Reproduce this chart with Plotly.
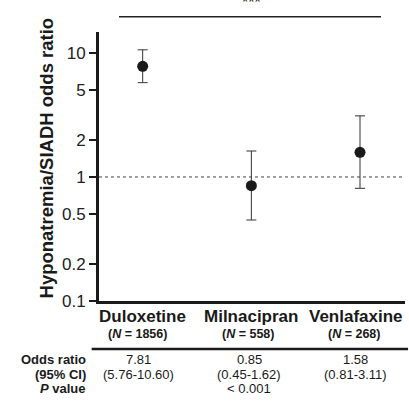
import plotly.graph_objects as go

# Odds ratios with 95% confidence intervals per drug
drugs = ["Duloxetine", "Milnacipran", "Venlafaxine"]
n_patients = [1856, 558, 268]
odds_ratio = [7.81, 0.85, 1.58]
ci_low = [5.76, 0.45, 0.81]
ci_high = [10.60, 1.62, 3.11]
p_value_text = ["", "< 0.001", ""]
significance = "***"

y_tick_vals = [0.1, 0.2, 0.5, 1, 2, 5, 10]
y_tick_text = ["0.1", "0.2", "0.5", "1", "2", "5", "10"]

FONT = "Liberation Sans, Arial, Helvetica, sans-serif"
INK = "#1a1a1a"

x_pos = list(range(len(drugs)))

fig = go.Figure()
fig.add_trace(go.Scatter(
    x=x_pos,
    y=odds_ratio,
    mode="markers",
    marker=dict(size=11, color=INK, line=dict(width=0)),
    error_y=dict(
        type="data",
        symmetric=False,
        array=[h - v for h, v in zip(ci_high, odds_ratio)],
        arrayminus=[v - l for v, l in zip(odds_ratio, ci_low)],
        color="#333333",
        thickness=1,
        width=5,
    ),
    showlegend=False,
    cliponaxis=False,
))

# reference line at OR = 1
fig.add_shape(type="line", xref="paper", x0=0, x1=1, yref="y", y0=1, y1=1,
              line=dict(color="#444444", width=1, dash="dot"))

# significance bracket across all groups
fig.add_shape(type="line", xref="x", x0=-0.218, x1=2.193, yref="paper",
              y0=1.0569, y1=1.0569, line=dict(color="#222222", width=1.6))
fig.add_annotation(text=significance, xref="x", x=1, yref="paper", y=1.0705,
                   xanchor="center", yanchor="bottom", showarrow=False,
                   font=dict(family=FONT, size=16, color=INK))

# y-axis title
fig.add_annotation(text="<b>Hyponatremia/SIADH odds ratio</b>", textangle=-90,
                   xref="paper", x=-0.170, yref="paper", y=0.5335,
                   xanchor="center", yanchor="middle", showarrow=False,
                   font=dict(family=FONT, size=18.5, color=INK))

# group labels and table below the axis
col_shift = [-4, -2, -5]
for i, (name, n) in enumerate(zip(drugs, n_patients)):
    fig.add_annotation(text=f"<b>{name}</b>", xref="x", x=i, yref="paper", y=-0.0558,
                       xanchor="center", yanchor="middle", showarrow=False,
                       xshift=[0, 0, -4][i],
                       font=dict(family=FONT, size=17, color=INK))
    fig.add_annotation(text=f"<b>(<i>N</i> = {n})</b>", xref="x", x=i, yref="paper",
                       y=-0.1245, xanchor="center", yanchor="middle", showarrow=False,
                       xshift=col_shift[i] - 1,
                       font=dict(family=FONT, size=12.5, color=INK))
    fig.add_annotation(text=f"{odds_ratio[i]:.2f}", xref="x", x=i, yref="paper",
                       y=-0.2193, xanchor="center", yanchor="middle", showarrow=False,
                       xshift=col_shift[i],
                       font=dict(family=FONT, size=13, color=INK))
    fig.add_annotation(text=f"({ci_low[i]:.2f}-{ci_high[i]:.2f})", xref="x", x=i,
                       yref="paper", y=-0.2714, xanchor="center", yanchor="middle",
                       showarrow=False, xshift=col_shift[i],
                       font=dict(family=FONT, size=13, color=INK))
    if p_value_text[i]:
        fig.add_annotation(text=p_value_text[i].replace("<", "&lt;"), xref="x", x=i,
                           yref="paper", y=-0.3271, xanchor="center",
                           yanchor="middle", showarrow=False, xshift=col_shift[i],
                           font=dict(family=FONT, size=13, color=INK))

# table rule under the group labels
fig.add_shape(type="line", xref="paper", x0=-0.024, x1=1.01, yref="paper",
              y0=-0.1784, y1=-0.1784, line=dict(color=INK, width=2.5))

row_labels = ["<b>Odds ratio</b>", "<b>(95% CI)</b>", "<b><i>P</i> value</b>"]
row_y = [-0.2193, -0.2714, -0.3271]
for lab, yy in zip(row_labels, row_y):
    fig.add_annotation(text=lab, xref="paper", x=-0.0369, yref="paper", y=yy,
                       xanchor="right", yanchor="middle", showarrow=False,
                       font=dict(family=FONT, size=13, color=INK))

fig.update_xaxes(
    range=[-0.402, 2.414],
    showline=True, linecolor=INK, linewidth=3,
    showticklabels=False, ticks="", showgrid=False, zeroline=False,
)
fig.update_yaxes(
    type="log",
    range=[-1, 1.169],
    tickvals=y_tick_vals, ticktext=y_tick_text,
    ticks="outside", ticklen=7, tickwidth=2, tickcolor=INK,
    showline=True, linecolor=INK, linewidth=3,
    showgrid=False, zeroline=False,
    tickfont=dict(family=FONT, size=17, color="#222222"),
)
fig.update_layout(
    width=409, height=402,
    margin=dict(l=99, r=4, t=32, b=101),
    plot_bgcolor="white", paper_bgcolor="white",
    font=dict(family=FONT, color=INK),
)

fig.write_html("out.html")
